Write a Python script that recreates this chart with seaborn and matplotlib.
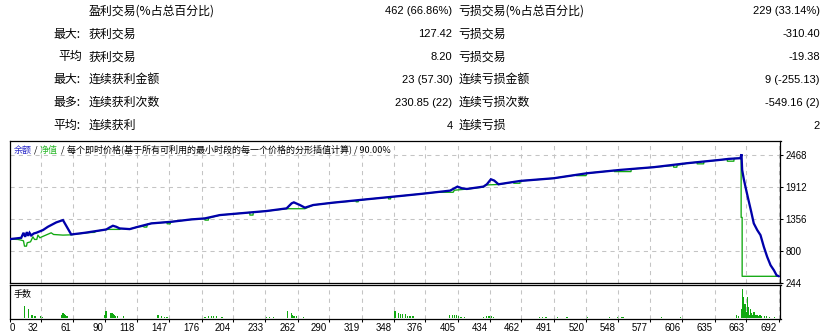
import numpy as np
import pandas as pd
import matplotlib
matplotlib.use("Agg")
import matplotlib.pyplot as plt
import seaborn as sns
from matplotlib import font_manager
from matplotlib.transforms import ScaledTranslation

# ---------------- data ----------------
row_prefix = ["", "最大:", "平均", "最大:", "最多:", "平均:"]
win_labels = ["盈利交易(%占总百分比)", "获利交易", "获利交易", "连续获利金额", "连续获利次数", "连续获利"]
win_values = ["462 (66.86%)", "127.42", "8.20", "23 (57.30)", "230.85 (22)", "4"]
loss_labels = ["亏损交易(%占总百分比)", "亏损交易", "亏损交易", "连续亏损金额", "连续亏损次数", "连续亏损"]
loss_values = ["229 (33.14%)", "-310.40", "-19.38", "9 (-255.13)", "-549.16 (2)", "2"]

chart_title_balance = "余额"
chart_title_equity = "净值"
chart_title_rest = "每个即时价格(基于所有可利用的最小时段的每一个价格的分形插值计算) / 90.00%"
volume_title = "手数"

balance_trade = [4.2, 14.7, 16.7, 18.2, 19.7, 20.9, 22.1, 23.6, 26, 28.1, 34.1, 38.5, 46, 52, 59.4,
                 71.4, 83.3, 90.8, 93.8, 96.7, 99.7, 102.7, 111.7, 119.1, 131.1, 149, 166.9, 178.8,
                 192.3, 234.1, 252, 256.5, 258.5, 263.9, 268.4, 275.8, 293.7, 323.6, 353.5, 371.4,
                 398.2, 404.8, 408.7, 413.2, 428.1, 431.1, 434.7, 437.7, 441.5, 460.9, 490.7, 520.6,
                 550.4, 580.3, 610.2, 640, 647.5, 657.9, 658.8, 659.4, 660.9, 663, 665.4, 667.5,
                 669.8, 672.9, 675.8, 678.8, 681.8, 684.8, 687.8, 690.2, 692.3]
balance_value = [1003, 1026, 1113, 1044, 1125, 1061, 1113, 1067, 1102, 1113, 1160, 1217, 1293, 1333, 1084,
                 1113, 1148, 1171, 1206, 1235, 1217, 1189, 1177, 1217, 1276, 1304, 1345, 1362,
                 1420, 1490, 1536, 1623, 1640, 1594, 1548, 1594, 1635, 1693, 1750, 1785,
                 1843, 1913, 1884, 1872, 1913, 1953, 2040, 2017, 1953, 2011, 2057, 2144,
                 2202, 2249, 2318, 2376, 2393, 2405, 2474, 2202, 2040, 1855, 1652, 1478,
                 1276, 1160, 1073, 870, 696, 552, 465, 378, 360]

equity_trade = [4.2, 11.7, 14.7, 16.7, 17.6, 19.4, 20, 23, 25.1, 26.6, 28.6, 29.6, 31.4, 33.2, 41.5,
                43.6, 52, 59.4, 65, 71.4, 76, 80, 82, 83.3, 90.8, 102.7, 104, 111.7, 119.1, 124,
                124.5, 127, 127.5, 131.1, 145, 145.2, 148, 148.2, 149, 166.9, 178.8, 179, 182,
                182.2, 192.3, 219, 219.2, 222, 222.2, 234.1, 252, 268.4, 275.8, 293.7, 314, 314.2,
                316, 316.2, 323.6, 343, 343.2, 345, 345.2, 353.5, 371.4, 389, 389.2, 401, 402,
                404.8, 413.2, 428.1, 430, 442, 455, 455.2, 460.7, 460.9, 490.7, 511, 511.2, 519.8,
                520.6, 545, 545.2, 560, 560.2, 580.3, 598, 598.2, 601, 601.2, 610.2, 619, 619.2,
                625, 625.2, 640, 646, 646.2, 652, 652.2, 657.9, 658.5, 658.5, 659.4, 659.4, 692.3]
equity_value = [1003, 998, 986, 974, 882, 882, 940, 957, 1044, 998, 998, 1073, 1026, 1044, 1113,
                1084, 1073, 1078, 1095, 1108, 1118, 1120, 1142, 1148, 1172, 1172, 1185, 1177, 1217, 1225,
                1212, 1212, 1262, 1276, 1297, 1269, 1269, 1302, 1304, 1345, 1362, 1333, 1333,
                1368, 1420, 1465, 1420, 1420, 1470, 1490, 1530, 1530, 1594, 1635, 1668, 1650,
                1650, 1672, 1693, 1729, 1700, 1700, 1733, 1750, 1785, 1823, 1815, 1815, 1850,
                1855, 1870, 1905, 1941, 1950, 1993, 1971, 1971, 2011, 2057, 2116, 2103, 2103,
                2144, 2192, 2173, 2173, 2218, 2249, 2277, 2249, 2249, 2282, 2318, 2335, 2307,
                2307, 2346, 2376, 2388, 2353, 2353, 2400, 2405, 2405, 1380, 1380, 360, 360]

volume_trade = [18, 21, 24, 25, 27, 32, 34,
                51, 52, 53, 54, 55, 56,
                89, 90, 91, 95, 96, 97, 98, 99, 101, 106,
                137, 140, 143, 145,
                179, 182, 185, 187, 189, 194, 195,
                234, 237, 240,
                253, 256, 257, 258, 259, 261, 267,
                349, 352, 354, 356, 358, 360, 362, 363, 365,
                398, 400, 402, 404, 406, 408, 411,
                428, 431, 433, 435, 437,
                478, 481, 484, 494, 502, 503, 521, 541, 548, 552, 553, 587, 604,
                654, 656, 659, 660, 661, 662, 663, 664, 665, 666, 667, 668, 669, 670,
                671, 672, 673, 674, 675, 676, 677, 679, 681, 684, 688]
volume_lots = [0.12, 0.09, 0.024, 0.03, 0.02, 0.017, 0.01,
               0.03, 0.047, 0.04, 0.03, 0.02, 0.015,
               0.027, 0.063, 0.07, 0.043, 0.043, 0.04, 0.03, 0.02, 0.015, 0.013,
               0.03, 0.02, 0.01, 0.01,
               0.01, 0.02, 0.015, 0.015, 0.015, 0.01, 0.01,
               0.01, 0.01, 0.01,
               0.067, 0.047, 0.025, 0.02, 0.02, 0.015, 0.01,
               0.067, 0.047, 0.04, 0.04, 0.033, 0.02, 0.013, 0.013, 0.013,
               0.03, 0.03, 0.03, 0.024, 0.013, 0.01, 0.01,
               0.01, 0.02, 0.013, 0.013, 0.01,
               0.01, 0.01, 0.01, 0.01, 0.01, 0.01, 0.01, 0.01, 0.01, 0.01, 0.01, 0.01, 0.01,
               0.03, 0.02, 0.09, 0.29, 0.21, 0.14, 0.06, 0.21, 0.11, 0.03, 0.09, 0.05, 0.024, 0.06,
               0.03, 0.024, 0.03, 0.02, 0.024, 0.024, 0.015, 0.02, 0.02, 0.01, 0.01]

xtick_labels = ["0", "32", "61", "90", "118", "147", "176", "204", "233", "262", "290", "319", "348",
                "376", "405", "434", "462", "491", "520", "548", "577", "606", "635", "663", "692"]
ytick_values = [244, 800, 1356, 1912, 2468]

# ---------------- style ----------------
BLUE = "#0000aa"
GREEN = "#10a810"
GRID = "#c4c4c4"

sns.set_theme(style="white")
plt.rcParams["font.family"] = ["Noto Sans CJK SC", "DejaVu Sans"]

avail = {f.name for f in font_manager.fontManager.ttflist}
NUM = "Liberation Sans" if "Liberation Sans" in avail else "DejaVu Sans"
TICKF = "Liberation Sans Narrow" if "Liberation Sans Narrow" in avail else NUM
CJK = ["Noto Sans CJK SC", "DejaVu Sans"]

W, H = 837, 336
fig = plt.figure(figsize=(W / 100, H / 100), dpi=100)
fig.patch.set_facecolor("white")


def fx(px):
    return px / W


def fy(py):
    return 1 - py / H


# ---------------- stats table ----------------
row_centers = [10, 33.3, 55.7, 78.7, 101.7, 124.7]
prefix_x = {"最大:": 53.3, "最多:": 53.3, "平均:": 53.3, "平均": 58.3, "": 53.3}
for i, yc in enumerate(row_centers):
    bc = yc + 4.5
    bn = yc + 4.0
    if row_prefix[i]:
        fig.text(fx(prefix_x[row_prefix[i]]), fy(bc), row_prefix[i], ha="left", va="baseline",
                 fontsize=8.6, family=CJK, color="black")
    fig.text(fx(88.3), fy(bc), win_labels[i], ha="left", va="baseline", fontsize=8.6, family=CJK, color="black")
    fig.text(fx(452.5), fy(bn), win_values[i], ha="right", va="baseline", fontsize=8, family=NUM, color="black")
    fig.text(fx(458.3), fy(bc), loss_labels[i], ha="left", va="baseline", fontsize=8.6, family=CJK, color="black")
    fig.text(fx(820), fy(bn), loss_values[i], ha="right", va="baseline", fontsize=8, family=NUM, color="black")

# ---------------- axes ----------------
LEFT, RIGHT = 9.5, 780.5
ax = fig.add_axes([fx(LEFT), fy(283), (RIGHT - LEFT) / W, (283 - 140.5) / H])
axv = fig.add_axes([fx(LEFT), fy(319), (RIGHT - LEFT) / W, (319 - 285.3) / H])

XMIN, XMAX = 4.2, 693.7

eq_df = pd.DataFrame({"trade": equity_trade, "value": equity_value})
bal_df = pd.DataFrame({"trade": balance_trade, "value": balance_value})
sns.lineplot(data=eq_df, x="trade", y="value", estimator=None, sort=False, color=GREEN,
             linewidth=0.95, ax=ax, zorder=3)
sns.lineplot(data=bal_df, x="trade", y="value", estimator=None, sort=False, color=BLUE,
             linewidth=1.65, ax=ax, zorder=4, solid_joinstyle="miter")

vol_df = pd.DataFrame({"trade": volume_trade, "lots": volume_lots})
sns.histplot(data=vol_df, x="trade", weights="lots", discrete=True, shrink=1.0, color=GREEN,
             alpha=1, linewidth=0, ax=axv, zorder=3, antialiased=False)

xt = [float(s) for s in xtick_labels]
xt[0] = XMIN
for a in (ax, axv):
    a.set_xlim(XMIN, XMAX)
    a.set_xticks(xt)
    a.set_xlabel("")
    a.set_ylabel("")
    a.set_facecolor("white")
    a.set_axisbelow(True)
    for s in a.spines.values():
        s.set_visible(True)
        s.set_color("black")
        s.set_linewidth(0.9)

ax.set_ylim(244, 2711)
ax.set_yticks(ytick_values)
ax.set_yticklabels([str(v) for v in ytick_values])
ax.yaxis.tick_right()
ax.tick_params(axis="y", right=True, left=False, labelright=True, labelleft=False,
               length=2, width=0.75, pad=1.7, labelsize=6.9, colors="black")
ax.tick_params(axis="x", bottom=False, labelbottom=False)
for l in ax.get_yticklabels():
    l.set_fontfamily(TICKF)
ax.grid(True, color=GRID, linestyle=(0, (4, 4)), linewidth=0.75)

axv.set_ylim(-0.013, 0.324)
axv.set_yticks([])
axv.xaxis.grid(True, color=GRID, linestyle=(0, (4, 4)), linewidth=0.75)
axv.yaxis.grid(False)
axv.set_xticklabels(xtick_labels)
axv.tick_params(axis="x", bottom=True, length=2.2, width=0.75, pad=0.9, labelsize=6.9,
                colors="black", direction="out")
labels = axv.get_xticklabels()
for i, l in enumerate(labels):
    l.set_fontfamily(TICKF)
    if i == 0:
        l.set_ha("left")
        l.set_transform(l.get_transform() + ScaledTranslation(0.6 / 100, 0, fig.dpi_scale_trans))
    else:
        l.set_ha("right")
        l.set_transform(l.get_transform() + ScaledTranslation(-2.0 / 100, 0, fig.dpi_scale_trans))

# ---------------- titles inside panels ----------------
tb = 152.5
TS = 6.5
fig.text(fx(13.3), fy(tb), chart_title_balance, ha="left", va="baseline", fontsize=TS, family=CJK, color="#2a2ac8")
fig.text(fx(33.8), fy(tb), "/", ha="left", va="baseline", fontsize=TS, family=CJK, color="black")
fig.text(fx(40.0), fy(tb), chart_title_equity, ha="left", va="baseline", fontsize=TS, family=CJK, color="#28b828")
fig.text(fx(61.0), fy(tb), "/", ha="left", va="baseline", fontsize=TS, family=CJK, color="black")
fig.text(fx(66.7), fy(tb), chart_title_rest, ha="left", va="baseline", fontsize=TS, family=CJK, color="black")
fig.text(fx(13.3), fy(297.5), volume_title, ha="left", va="baseline", fontsize=6.5, family=CJK, color="black")

fig.savefig("out.png", dpi=100, facecolor="white")
